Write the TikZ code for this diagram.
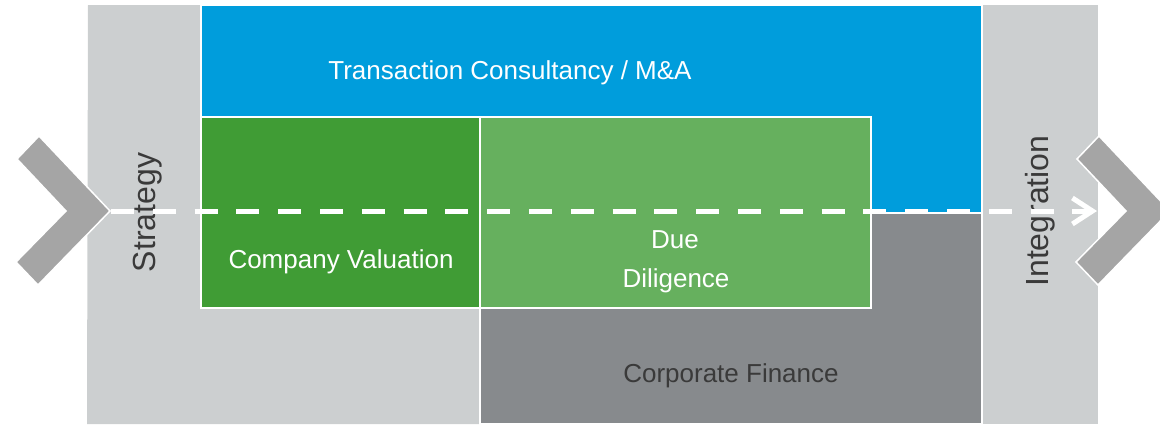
\documentclass[tikz,border=0pt]{standalone}
\usepackage{fontspec}
\setmainfont{Liberation Sans}
\usetikzlibrary{arrows.meta}
\definecolor{colgray}{RGB}{204,207,208}
\definecolor{tcblue}{RGB}{0,157,220}
\definecolor{cvgreen}{RGB}{64,156,53}
\definecolor{ddgreen}{RGB}{102,176,94}
\definecolor{cfgray}{RGB}{135,138,141}
\definecolor{chevgray}{RGB}{165,165,165}
\definecolor{txtdark}{RGB}{58,58,58}
\tikzset{
  area/.style={draw=white, line width=1.5pt},
  wlabel/.style={text=white, font=\fontsize{26}{39}\selectfont, inner sep=0pt, anchor=base},
  dlabel/.style={text=txtdark, font=\fontsize{26}{39}\selectfont, inner sep=0pt, anchor=base},
  vlabel/.style={text=txtdark, font=\fontsize{32}{38}\selectfont, inner sep=0pt, rotate=90},
  chevron/.style={fill=chevgray, draw=white, line width=1.5pt},
  flow/.style={white, line width=5pt, dash pattern=on 23pt off 18.8pt, -{Straight Barb[length=20pt,width=26pt]}}
}
\begin{document}
\begin{tikzpicture}[x=1pt,y=-1pt]
\useasboundingbox (0,0) rectangle (1160,424);
\clip (0,0) rectangle (1160,424);
% side columns
\fill[colgray] (88,5) -- (200,5) -- (200,307) -- (480,307) -- (480,424) -- (87,424) -- cycle;
\fill[colgray] (982,5) rectangle (1098,424);
% main areas
\path[area, fill=tcblue] (201,5) rectangle (982,213);
\path[area, fill=cfgray] (480,213) rectangle (982,424);
\path[area, fill=cvgreen] (201,117) rectangle (480,308);
\path[area, fill=ddgreen] (480,117) rectangle (871,308);
\draw[white, line width=1.5pt] (982,5) -- (982,424);
% labels
\node[wlabel] (tc) at (510,79) {Transaction Consultancy / M\&A};
\node[wlabel] (cv) at (341,268) {Company Valuation};
\node[wlabel] (dd1) at (675,248) {Due};
\node[wlabel] (dd2) at (676,287) {Diligence};
\node[dlabel] (cf) at (731,382) {Corporate Finance};
\node[vlabel] (st) at (148,212.5) {Strategy};
\node[vlabel] (ig) at (1040,211) {Integration};
% chevrons
\path[chevron] (39,136) -- (110,211) -- (38,285) -- (16,262) -- (66,211) -- (17,159) -- cycle;
\path[chevron] (1099,136) -- (1170,211) -- (1098,285) -- (1076,262) -- (1126,211) -- (1077,159) -- cycle;
\coordinate (ltip) at (111,211);
\coordinate (rend) at (1097,211);
\draw[flow] (ltip) -- (rend);
\end{tikzpicture}
\end{document}
